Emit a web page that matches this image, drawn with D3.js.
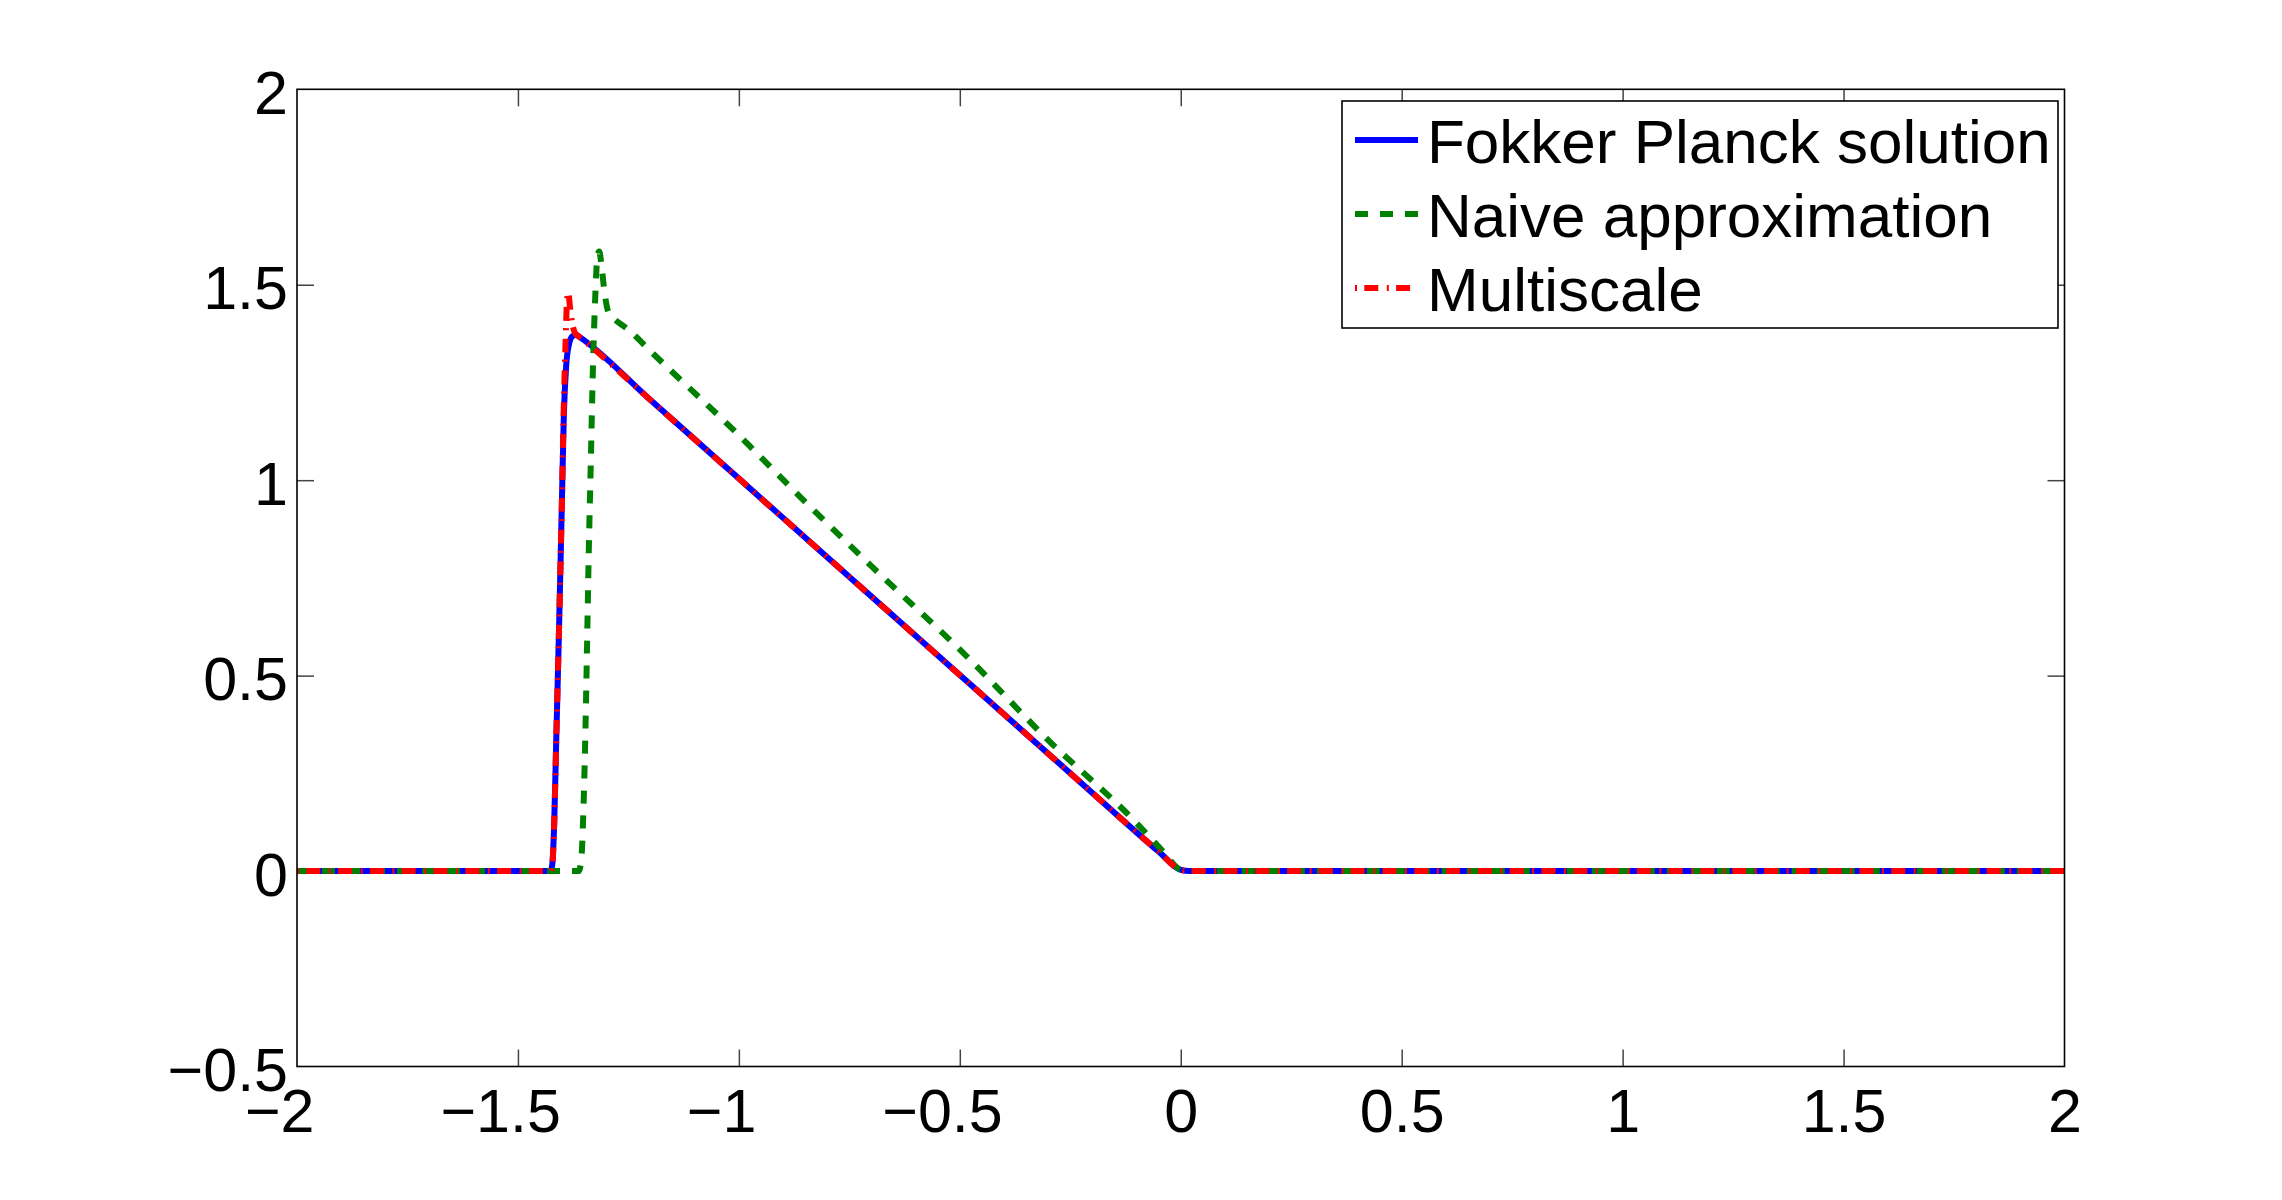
<!DOCTYPE html>
<html><head><meta charset="utf-8">
<script src="https://cdn.jsdelivr.net/npm/d3@7"></script>
<style>html,body{margin:0;padding:0;background:#fff;} svg{display:block;}</style>
</head><body><svg id="chart" width="2282" height="1200"></svg>
<script>
// ---- data ----
const xTicks = [-2, -1.5, -1, -0.5, 0, 0.5, 1, 1.5, 2];
const yTicks = [-0.5, 0, 0.5, 1, 1.5, 2];
const seriesNames = ["Fokker Planck solution", "Naive approximation", "Multiscale"];

const fokkerX = [-2, -1.426, -1.422, -1.418, -1.413, -1.407, -1.401, -1.396, -1.391, -1.385, -1.377, -1.368, -1.36, -1.2, -1.0, -0.8, -0.6, -0.4, -0.2, -0.05, 0, 0.02, 2];
const fokkerY = [0, 0, 0.02, 0.12, 0.35, 0.62, 0.92, 1.17, 1.29, 1.345, 1.368, 1.372, 1.366, 1.205, 1.004, 0.803, 0.602, 0.401, 0.2, 0.05, 0.003, 0, 0];

const naiveX = [-2, -1.362, -1.356, -1.352, -1.348, -1.344, -1.340, -1.335, -1.330, -1.325, -1.320, -1.316, -1.311, -1.305, -1.298, -1.29, -1.28, -1.25, -1.2, -1.0, -0.862, -0.7, -0.485, -0.3, -0.108, -0.04, 0, 0.02, 2];
const naiveY = [0, 0, 0.04, 0.15, 0.32, 0.55, 0.8, 1.05, 1.3, 1.47, 1.575, 1.585, 1.55, 1.49, 1.44, 1.42, 1.41, 1.385, 1.33, 1.115, 0.958, 0.78, 0.55, 0.335, 0.132, 0.05, 0.003, 0, 0];

const multiX = [-2, -1.426, -1.422, -1.418, -1.413, -1.407, -1.401, -1.396, -1.392, -1.389, -1.386, -1.382, -1.377, -1.37, -1.36, -1.2, -1.0, -0.8, -0.6, -0.4, -0.2, -0.05, 0, 0.02, 2];
const multiY = [0, 0, 0.02, 0.12, 0.35, 0.62, 0.92, 1.2, 1.36, 1.46, 1.48, 1.44, 1.40, 1.375, 1.366, 1.205, 1.004, 0.803, 0.602, 0.401, 0.2, 0.05, 0.003, 0, 0];

// ---- layout ----
const W = 2282, H = 1200;
const plot = {left: 297, right: 2064.5, top: 89.3, bottom: 1066.5};
const FONT = '"Liberation Sans", Arial, Helvetica, sans-serif';
const FS = 61;

const x = d3.scaleLinear().domain([-2, 2]).range([plot.left, plot.right]);
const y = d3.scaleLinear().domain([-0.5, 2]).range([plot.bottom, plot.top]);

const svg = d3.select('#chart').attr('font-family', FONT);
svg.append('rect').attr('width', W).attr('height', H).attr('fill', '#fff');

svg.append('defs').append('clipPath').attr('id', 'clip')
  .append('rect').attr('x', plot.left).attr('y', plot.top)
  .attr('width', plot.right - plot.left).attr('height', plot.bottom - plot.top);

const series = [
  {name: seriesNames[0], xs: fokkerX, ys: fokkerY, color: '#0000ff', dash: null, width: 6, offset: 0},
  {name: seriesNames[1], xs: naiveX, ys: naiveY, color: '#008000', dash: '13,12', width: 6, offset: 0},
  {name: seriesNames[2], xs: multiX, ys: multiY, color: '#ff0000', dash: '14,8.5,2,7.3', width: 6, offset: 22.5}
];

// ---- axes ----
const tickColor = '#444';
const fmt = v => String(Math.abs(v));

const gB = svg.append('g').attr('transform', `translate(0,${plot.bottom})`)
  .call(d3.axisBottom(x).tickValues(xTicks).tickSizeInner(-17).tickSizeOuter(0).tickFormat(fmt));
const gT = svg.append('g').attr('transform', `translate(0,${plot.top})`)
  .call(d3.axisTop(x).tickValues(xTicks).tickSizeInner(-17).tickSizeOuter(0).tickFormat(''));
const gL = svg.append('g').attr('transform', `translate(${plot.left},0)`)
  .call(d3.axisLeft(y).tickValues(yTicks).tickSizeInner(-17).tickSizeOuter(0).tickPadding(9)
    .tickFormat(v => (v < 0 ? '\u2212' : '') + Math.abs(v)));
const gR = svg.append('g').attr('transform', `translate(${plot.right},0)`)
  .call(d3.axisRight(y).tickValues(yTicks).tickSizeInner(-17).tickSizeOuter(0).tickFormat(''));

[gB, gT, gL, gR].forEach(g => {
  g.attr('font-family', FONT).attr('font-size', FS);
  g.select('.domain').remove();
  g.selectAll('.tick line').attr('stroke', tickColor).attr('stroke-width', 1.5);
  g.selectAll('.tick text').attr('fill', '#000');
});
// edge ticks coincide with the box
gB.selectAll('.tick line').filter(d => d === -2 || d === 2).remove();
gT.selectAll('.tick line').filter(d => d === -2 || d === 2).remove();
gL.selectAll('.tick line').filter(d => d === -0.5 || d === 2).remove();
gR.selectAll('.tick line').filter(d => d === -0.5 || d === 2).remove();

gL.selectAll('.tick text').attr('dy', null).attr('y', 24);
gB.selectAll('.tick text').attr('dy', null).attr('y', 65);
// MATLAB-like: the number is centred on the tick, the minus hangs left
gB.selectAll('.tick').each(function(d) {
  if (d < 0) {
    const t = d3.select(this).select('text');
    const w = t.node().getComputedTextLength();
    d3.select(this).append('text').attr('fill', '#000').attr('text-anchor', 'end')
      .attr('x', -w / 2).attr('y', 65).text('\u2212');
  }
});

// ---- lines ----
const line = d3.line().x(d => x(d[0])).y(d => y(d[1])).curve(d3.curveMonotoneX);
const gLines = svg.append('g').attr('clip-path', 'url(#clip)');
series.forEach(s => {
  const pts = s.xs.map((v, i) => [v, s.ys[i]]);
  const p = gLines.append('path').datum(pts).attr('d', line)
    .attr('fill', 'none').attr('stroke', s.color).attr('stroke-width', s.width)
    .attr('stroke-linejoin', 'round');
  if (s.dash) p.attr('stroke-dasharray', s.dash).attr('stroke-dashoffset', s.offset);
});

// ---- box ----
svg.append('rect').attr('x', plot.left).attr('y', plot.top)
  .attr('width', plot.right - plot.left).attr('height', plot.bottom - plot.top)
  .attr('fill', 'none').attr('stroke', '#000').attr('stroke-width', 1.6);

// ---- legend ----
const lg = {x: 1342, y: 101, w: 716, h: 227, rowY0: 140, rowStep: 74, lineX0: 1355, lineX1: 1418, textX: 1427};
svg.append('rect').attr('x', lg.x).attr('y', lg.y).attr('width', lg.w).attr('height', lg.h)
  .attr('fill', '#fff').attr('stroke', '#000').attr('stroke-width', 1.6);
series.forEach((s, i) => {
  const yy = lg.rowY0 + i * lg.rowStep;
  const l = svg.append('line').attr('x1', lg.lineX0).attr('x2', lg.lineX1).attr('y1', yy).attr('y2', yy)
    .attr('stroke', s.color).attr('stroke-width', s.width);
  if (s.dash) l.attr('stroke-dasharray', s.dash).attr('stroke-dashoffset', s.offset);
  svg.append('text').attr('x', lg.textX).attr('y', yy + 22.5).attr('font-size', 62)
    .attr('fill', '#000').text(s.name);
});
</script>
</body></html>
